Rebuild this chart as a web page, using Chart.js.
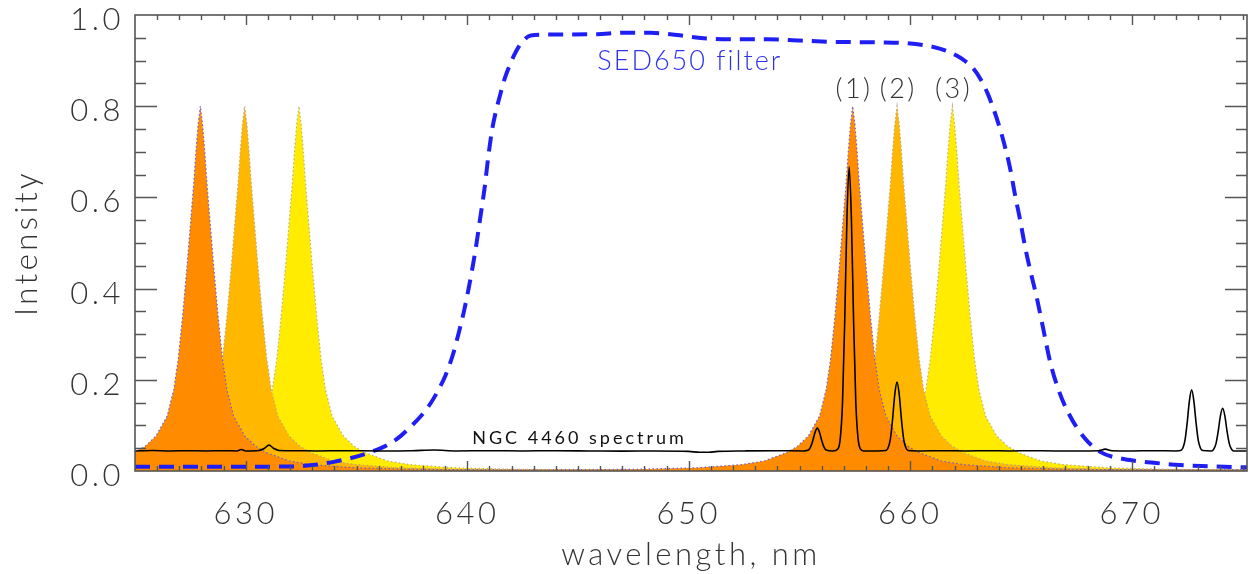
<!DOCTYPE html>
<html>
<head>
<meta charset="utf-8">
<script src="https://cdn.jsdelivr.net/npm/chart.js@4.4.1/dist/chart.umd.min.js"></script>
<style>
  html, body { margin: 0; padding: 0; background: #ffffff; }
  #wrap { width: 1257px; height: 574px; position: relative; }
</style>
</head>
<body>
<div id="wrap"><canvas id="c"></canvas></div>
<script>
// ---------- data ----------
const xTickValues = [630, 640, 650, 660, 670];
const yTickValues = [0.0, 0.2, 0.4, 0.6, 0.8, 1.0];

// Filter (1) transmission - dark orange
const orange1Wl = [625.0, 625.45, 625.95, 626.45, 626.75, 626.95, 627.15, 627.35, 627.5, 627.65, 627.75, 627.85, 627.95,
  628.05, 628.15, 628.25, 628.4, 628.55, 628.75, 628.95, 629.15, 629.45, 629.95, 630.45, 630.95, 631.95, 632.95, 634.95,
  637.95, 642.7, 647.4, 650.4, 652.4, 653.4, 654.4, 654.9, 655.4, 655.9, 656.2, 656.4, 656.6, 656.8, 656.95, 657.1, 657.2,
  657.3, 657.4, 657.5, 657.6, 657.7, 657.85, 658.0, 658.2, 658.4, 658.6, 658.9, 659.4, 659.9, 660.4, 661.4, 662.4, 664.4,
  667.4, 672.15, 675.2];
const orange1Val = [0.041, 0.054, 0.077, 0.12, 0.178, 0.245, 0.34, 0.45, 0.54, 0.63, 0.70, 0.76, 0.80,
  0.76, 0.70, 0.63, 0.54, 0.45, 0.34, 0.245, 0.178, 0.12, 0.077, 0.054, 0.040, 0.022, 0.014, 0.007,
  0.0035, 0.0025, 0.0035, 0.007, 0.014, 0.022, 0.040, 0.054, 0.077, 0.12, 0.178, 0.245, 0.34, 0.45, 0.54, 0.63, 0.70,
  0.76, 0.80, 0.76, 0.70, 0.63, 0.54, 0.45, 0.34, 0.245, 0.178, 0.12, 0.077, 0.054, 0.040, 0.022, 0.014, 0.007,
  0.0035, 0.0025, 0.003];

// Filter (2) transmission - light orange
const orange2Wl = [625.0, 625.95, 626.95, 627.45, 627.95, 628.45, 628.75, 628.95, 629.15, 629.35, 629.5, 629.65, 629.75,
  629.85, 629.95, 630.05, 630.15, 630.25, 630.4, 630.55, 630.75, 630.95, 631.15, 631.45, 631.95, 632.45, 632.95, 633.95,
  634.95, 636.95, 639.95, 644.7, 649.4, 652.4, 654.4, 655.4, 656.4, 656.9, 657.4, 657.9, 658.2, 658.4, 658.6, 658.8,
  658.95, 659.1, 659.2, 659.3, 659.4, 659.5, 659.6, 659.7, 659.85, 660.0, 660.2, 660.4, 660.6, 660.9, 661.4, 661.9,
  662.4, 663.4, 664.4, 666.4, 669.4, 674.15, 675.2];
const orange2Val = [0.014, 0.022, 0.040, 0.054, 0.077, 0.12, 0.178, 0.245, 0.34, 0.45, 0.54, 0.63, 0.70,
  0.76, 0.80, 0.76, 0.70, 0.63, 0.54, 0.45, 0.34, 0.245, 0.178, 0.12, 0.077, 0.054, 0.040, 0.022,
  0.014, 0.007, 0.0035, 0.0025, 0.0035, 0.007, 0.014, 0.022, 0.040, 0.054, 0.077, 0.12, 0.178, 0.245, 0.34, 0.45,
  0.54, 0.63, 0.70, 0.76, 0.80, 0.76, 0.70, 0.63, 0.54, 0.45, 0.34, 0.245, 0.178, 0.12, 0.077, 0.054,
  0.040, 0.022, 0.014, 0.007, 0.0035, 0.0025, 0.0025];

// Filter (3) transmission - yellow
const yellowWl = [625.0, 626.4, 627.4, 628.4, 629.4, 629.9, 630.4, 630.9, 631.2, 631.4, 631.6, 631.8, 631.95, 632.1,
  632.2, 632.3, 632.4, 632.5, 632.6, 632.7, 632.85, 633.0, 633.2, 633.4, 633.6, 633.9, 634.4, 634.9, 635.4, 636.4,
  637.4, 639.4, 642.4, 647.15, 651.9, 654.9, 656.9, 657.9, 658.9, 659.4, 659.9, 660.4, 660.7, 660.9, 661.1, 661.3,
  661.45, 661.6, 661.7, 661.8, 661.9, 662.0, 662.1, 662.2, 662.35, 662.5, 662.7, 662.9, 663.1, 663.4, 663.9, 664.4,
  664.9, 665.9, 666.9, 668.9, 671.9, 675.2];
const yellowVal = [0.0065, 0.009, 0.014, 0.022, 0.040, 0.054, 0.077, 0.12, 0.178, 0.245, 0.34, 0.45, 0.54, 0.63,
  0.70, 0.76, 0.80, 0.76, 0.70, 0.63, 0.54, 0.45, 0.34, 0.245, 0.178, 0.12, 0.077, 0.054, 0.040, 0.022,
  0.014, 0.007, 0.0035, 0.0025, 0.0035, 0.007, 0.014, 0.022, 0.040, 0.054, 0.077, 0.12, 0.178, 0.245, 0.34, 0.45,
  0.54, 0.63, 0.70, 0.76, 0.80, 0.76, 0.70, 0.63, 0.54, 0.45, 0.34, 0.245, 0.178, 0.12, 0.077, 0.054,
  0.040, 0.022, 0.014, 0.007, 0.0035, 0.0028];

// SED650 filter curve (blue dashed)
const sedWl = [625.0, 628.0, 630.0, 632.0, 633.0, 633.97, 634.8, 635.49, 636.05, 636.54, 637.0, 637.44, 637.9, 638.34,
  638.7, 639.02, 639.35, 639.6, 639.85, 640.06, 640.25, 640.42, 640.6, 640.78, 640.95, 641.13, 641.3, 641.5, 641.7,
  641.95, 642.2, 642.48, 642.86, 643.61, 645.86, 647.06, 648.27, 649.47, 650.67, 652.03, 653.53, 655.03, 656.53,
  658.64, 659.84, 661.04, 661.6, 662.09, 662.5, 662.84, 663.2, 663.5, 663.75, 663.97, 664.2, 664.5, 664.73, 664.96,
  665.18, 665.41, 665.71, 666.01, 666.31, 666.69, 667.14, 667.82, 668.57, 669.92, 671.0, 672.17, 673.5, 675.2];
const sedVal = [0.0095, 0.0095, 0.0095, 0.0098, 0.013, 0.020, 0.029, 0.039, 0.049, 0.061, 0.077, 0.097, 0.12, 0.148,
  0.178, 0.21, 0.255, 0.30, 0.35, 0.40, 0.45, 0.50, 0.56, 0.62, 0.69, 0.751, 0.79, 0.828, 0.862,
  0.894, 0.92, 0.941, 0.955, 0.957, 0.958, 0.961, 0.961, 0.956, 0.949, 0.947, 0.947, 0.944, 0.941,
  0.940, 0.938, 0.930, 0.922, 0.911, 0.898, 0.883, 0.857, 0.827, 0.795, 0.763, 0.725, 0.665, 0.605, 0.55,
  0.492, 0.441, 0.38, 0.31, 0.24, 0.178, 0.127, 0.075, 0.042, 0.024, 0.018, 0.013, 0.0105, 0.008];

// NGC 4460 spectrum (black)
const ngcWl = [625.0, 625.8, 626.6, 627.4, 628.2, 629.0, 629.6, 629.8, 630.0, 630.6, 630.85, 631.05, 631.25, 631.5,
  632.3, 633.2, 634.5, 636.0, 637.5, 638.5, 639.5, 641.0, 642.5, 644.0, 645.5, 647.0, 648.5, 650.0, 650.5, 650.9,
  651.3, 652.5, 654.0, 655.2, 655.4, 655.5, 655.6, 655.7, 655.8, 655.9, 656.0, 656.1, 656.2, 656.5, 656.74, 656.84,
  656.94, 657.04, 657.14, 657.24, 657.34, 657.44, 657.54, 657.64, 657.74, 657.9, 658.5, 658.9, 659.0, 659.1, 659.2,
  659.3, 659.4, 659.5, 659.6, 659.7, 659.8, 659.9, 660.5, 661.5, 662.5, 663.5, 664.5, 665.5, 666.5, 667.5, 668.5,
  668.8, 669.1, 670.0, 671.0, 672.0, 672.2, 672.3, 672.4, 672.5, 672.6, 672.7, 672.8, 672.9, 673.0, 673.1, 673.2,
  673.6, 673.7, 673.8, 673.9, 674.0, 674.1, 674.2, 674.3, 674.4, 674.5, 674.6, 675.2];
const ngcVal = [0.044, 0.045, 0.044, 0.0445, 0.044, 0.0445, 0.044, 0.047, 0.044, 0.045, 0.050, 0.057, 0.050, 0.045,
  0.0445, 0.044, 0.0445, 0.044, 0.0445, 0.046, 0.044, 0.0445, 0.044, 0.0445, 0.044, 0.0435, 0.044, 0.043, 0.041, 0.041,
  0.043, 0.044, 0.0445, 0.044, 0.046, 0.053, 0.067, 0.085, 0.094, 0.085, 0.067, 0.053, 0.046, 0.044, 0.049, 0.072,
  0.15, 0.33, 0.555, 0.667, 0.555, 0.33, 0.15, 0.072, 0.049, 0.044, 0.044, 0.045, 0.051, 0.07, 0.113,
  0.168, 0.195, 0.168, 0.113, 0.07, 0.051, 0.045, 0.044, 0.0445, 0.044, 0.0445, 0.044, 0.0445, 0.044, 0.044, 0.0445,
  0.048, 0.0445, 0.044, 0.0445, 0.044, 0.045, 0.05, 0.067, 0.106, 0.154, 0.178, 0.154, 0.106, 0.067, 0.05, 0.045,
  0.044, 0.048, 0.06, 0.087, 0.121, 0.1375, 0.121, 0.087, 0.06, 0.048, 0.044, 0.044];

// text annotations (label, wavelength, intensity)
const annotations = [
  { text: 'SED650 filter', x: 650.0, y: 0.899, color: '#3030ee', size: 27, weight: 300, spacing: 2 },
  { text: '(1)', x: 657.4, y: 0.838, color: '#333333', size: 27, weight: 300, spacing: 2.5 },
  { text: '(2)', x: 659.4, y: 0.838, color: '#333333', size: 27, weight: 300, spacing: 2.5 },
  { text: '(3)', x: 661.9, y: 0.838, color: '#333333', size: 27, weight: 300, spacing: 2.5 },
  { text: 'NGC 4460 spectrum', x: 645.0, y: 0.072, color: '#111111', size: 18, weight: 400, spacing: 3 }
];

// ---------- helpers ----------
const toPoints = (xs, ys) => xs.map((v, i) => ({ x: v, y: ys[i] }));

const FONT = "Lato, 'Open Sans', 'DejaVu Sans', sans-serif";
const TEXT_COLOR = '#333333';
const AXIS_COLOR = '#555555';

const CHART_LEFT = 135, CHART_TOP = 15, CHART_BOTTOM = 471, CHART_RIGHT = 1247;

const wideText = {
  id: 'wideText',
  beforeDraw(chart) { chart.ctx.letterSpacing = '3.5px'; }
};

const frameTicks = {
  id: 'frameTicks',
  afterDatasetsDraw(chart) {
    const { ctx, chartArea: a, scales: { x, y } } = chart;
    ctx.save();
    ctx.strokeStyle = AXIS_COLOR;
    ctx.lineWidth = 1.6;
    ctx.strokeRect(a.left, a.top, a.right - a.left, a.bottom - a.top);
    ctx.lineWidth = 1.4;
    ctx.beginPath();
    for (let k = 626; k <= 675; k++) {
      const px = Math.round(x.getPixelForValue(k)) + 0.5;
      const len = (k % 10 === 0) ? 10 : 5;
      ctx.moveTo(px, a.bottom); ctx.lineTo(px, a.bottom - len);
      ctx.moveTo(px, a.top); ctx.lineTo(px, a.top + len);
    }
    for (let k = 1; k < 20; k++) {
      const py = Math.round(y.getPixelForValue(k * 0.05)) + 0.5;
      const len = (k % 4 === 0) ? 22 : 11;
      ctx.moveTo(a.left, py); ctx.lineTo(a.left + len, py);
      ctx.moveTo(a.right, py); ctx.lineTo(a.right - len, py);
    }
    ctx.stroke();

    // annotations
    ctx.textAlign = 'center';
    ctx.textBaseline = 'middle';
    annotations.forEach(an => {
      ctx.font = `${an.weight} ${an.size}px ${FONT}`;
      ctx.letterSpacing = an.spacing + 'px';
      ctx.fillStyle = an.color;
      ctx.fillText(an.text, x.getPixelForValue(an.x) + an.spacing / 2, y.getPixelForValue(an.y));
    });
    ctx.restore();
  }
};

const fillDs = (label, xs, ys, fillColor, lineColor) => ({
  label,
  data: toPoints(xs, ys),
  borderColor: lineColor,
  borderWidth: 1.2,
  borderDash: [1.5, 2.5],
  backgroundColor: fillColor,
  fill: 'origin',
  pointRadius: 0,
  tension: 0
});

new Chart(document.getElementById('c'), {
  type: 'line',
  data: {
    datasets: [
      {
        label: 'NGC 4460 spectrum',
        data: toPoints(ngcWl, ngcVal),
        borderColor: '#000000',
        borderWidth: 1.6,
        pointRadius: 0,
        fill: false,
        cubicInterpolationMode: 'monotone'
      },
      {
        label: 'SED650 filter',
        data: toPoints(sedWl, sedVal),
        borderColor: '#1e1ef5',
        borderWidth: 4,
        borderDash: [15, 9],
        pointRadius: 0,
        fill: false,
        cubicInterpolationMode: 'monotone'
      },
      fillDs('(1)', orange1Wl, orange1Val, '#ff8c00', '#6a5cd8'),
      fillDs('(2)', orange2Wl, orange2Val, '#ffb700', '#b9a58a'),
      fillDs('(3)', yellowWl, yellowVal, '#ffec00', '#b8ad90')
    ]
  },
  options: {
    responsive: true,
    maintainAspectRatio: false,
    animation: false,
    events: [],
    layout: { padding: { top: CHART_TOP, right: 1257 - CHART_RIGHT, left: 0, bottom: 0 } },
    plugins: { legend: { display: false }, tooltip: { enabled: false } },
    scales: {
      x: {
        type: 'linear',
        min: 625,
        max: 675.2,
        grid: { display: false, drawTicks: false },
        border: { display: false },
        afterBuildTicks: s => { s.ticks = xTickValues.map(v => ({ value: v })); },
        afterFit: s => { s.height = 574 - CHART_BOTTOM; s.paddingLeft = 0; s.paddingRight = 0; },
        ticks: {
          autoSkip: false,
          maxRotation: 0,
          padding: 24,
          color: TEXT_COLOR,
          font: { family: FONT, size: 31, weight: '300' },
          callback: v => String(v)
        },
        title: {
          display: true,
          text: 'wavelength, nm',
          color: TEXT_COLOR,
          padding: { top: 0, bottom: 0 },
          font: { family: FONT, size: 31, weight: '300' }
        }
      },
      y: {
        type: 'linear',
        min: 0,
        max: 1.0,
        grid: { display: false, drawTicks: false },
        border: { display: false },
        afterBuildTicks: s => { s.ticks = yTickValues.map(v => ({ value: v })); },
        afterFit: s => { s.width = CHART_LEFT; s.paddingTop = 0; s.paddingBottom = 0; },
        ticks: {
          autoSkip: false,
          padding: 11,
          labelOffset: 5,
          color: TEXT_COLOR,
          font: { family: FONT, size: 31, weight: '300' },
          callback: v => Number(v).toFixed(1)
        },
        title: {
          display: true,
          text: 'Intensity',
          color: TEXT_COLOR,
          padding: { top: 8, bottom: 0 },
          font: { family: FONT, size: 31, weight: '300' }
        }
      }
    }
  },
  plugins: [wideText, frameTicks]
});
</script>
</body>
</html>
